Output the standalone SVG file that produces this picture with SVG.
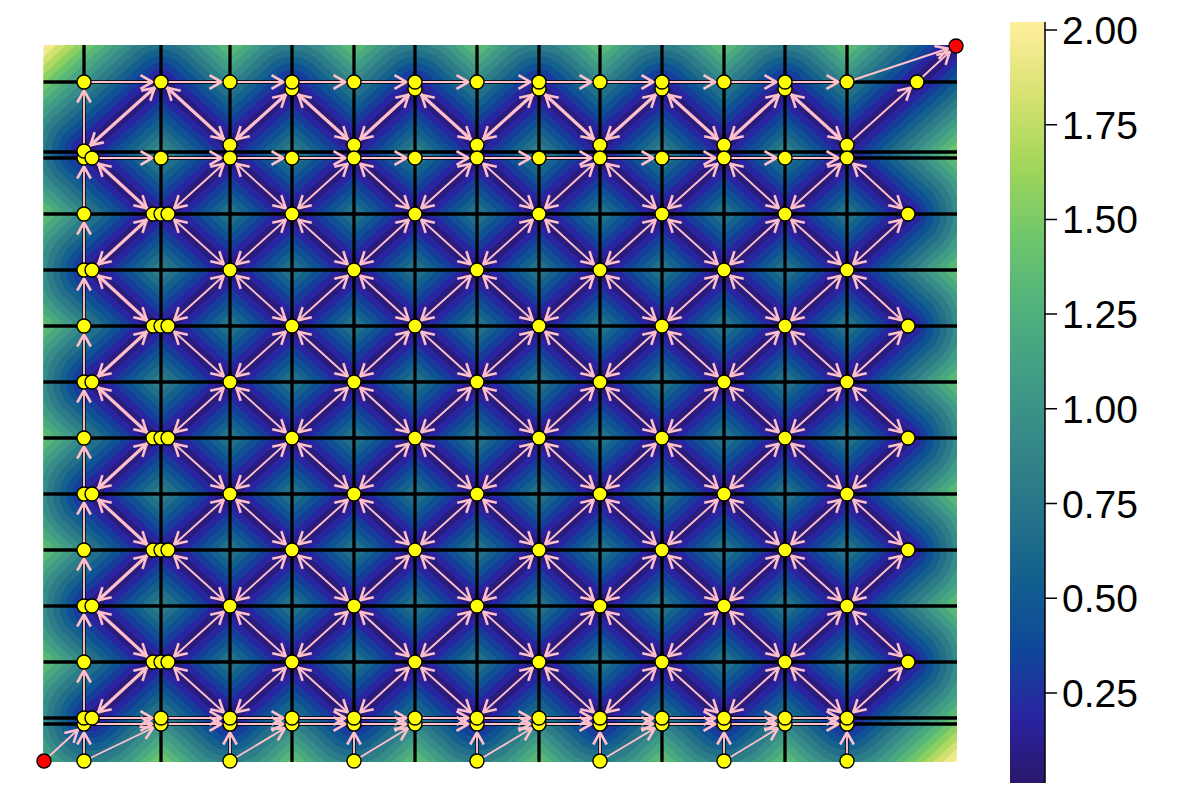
<svg xmlns="http://www.w3.org/2000/svg" xmlns:xlink="http://www.w3.org/1999/xlink" width="1200" height="800" viewBox="0 0 1200 800">
<style>
.y{fill:#ffff00;stroke:#000;stroke-width:1.4}
.r{fill:#ff0000;stroke:#000;stroke-width:1.4}
.g{stroke:#000;stroke-width:3.3;fill:none}
.e{stroke:#ffc0cb;stroke-width:1.9;fill:none;marker-start:url(#ah);marker-end:url(#ah)}
.d{stroke:#ffc0cb;stroke-width:1.9;fill:none;marker-end:url(#ah)}
.t{stroke-width:3.2}
.tk{stroke:#000;stroke-width:1.5}
.lb{font-family:"Liberation Sans",Arial,sans-serif;font-size:39px;fill:#000}
</style>
<defs>
<clipPath id="plotclip"><rect x="43.5" y="45" width="913.5" height="717"/></clipPath>
<marker id="ah" viewBox="-22 -9 24 18" refX="0" refY="0" markerWidth="24" markerHeight="18" markerUnits="userSpaceOnUse" orient="auto-start-reverse" overflow="visible"><path d="M-20.5 -6.8L-8.5 0L-20.5 6.8" fill="none" stroke="#ffc0cb" stroke-width="2.6"/></marker>
<linearGradient id="cb" x1="0" y1="1" x2="0" y2="0">
<stop offset="0" stop-color="rgb(41,24,107)"/>
<stop offset="0.0845" stop-color="rgb(42,35,160)"/>
<stop offset="0.175" stop-color="rgb(15,71,153)"/>
<stop offset="0.2655" stop-color="rgb(18,95,142)"/>
<stop offset="0.356" stop-color="rgb(38,116,137)"/>
<stop offset="0.4466" stop-color="rgb(53,136,136)"/>
<stop offset="0.537" stop-color="rgb(65,157,133)"/>
<stop offset="0.6275" stop-color="rgb(81,178,124)"/>
<stop offset="0.718" stop-color="rgb(111,198,107)"/>
<stop offset="0.8086" stop-color="rgb(160,214,91)"/>
<stop offset="0.899" stop-color="rgb(212,225,112)"/>
<stop offset="0.9896" stop-color="rgb(253,238,153)"/>
<stop offset="1" stop-color="rgb(253,238,153)"/>
</linearGradient>
<path id="fp" fill="none" stroke-linecap="round" stroke-linejoin="round" d="M84 151L161 82L230 145L292 89L354 145L415 89L477 145L539 89L600 145L662 89L724 145L785 89L847 145L917 82L956 46
M92 158L153 214M168 214L230 158L292 214L354 158L415 214L477 158L539 214L600 158L662 214L724 158L785 214L847 158L908 214
M92 270L153 214M168 214L230 270L292 214L354 270L415 214L477 270L539 214L600 270L662 214L724 270L785 214L847 270L908 214
M92 270L153 326M168 326L230 270L292 326L354 270L415 326L477 270L539 326L600 270L662 326L724 270L785 326L847 270L908 326
M92 382L153 326M168 326L230 382L292 326L354 382L415 326L477 382L539 326L600 382L662 326L724 382L785 326L847 382L908 326
M92 382L153 438M168 438L230 382L292 438L354 382L415 438L477 382L539 438L600 382L662 438L724 382L785 438L847 382L908 438
M92 494L153 438M168 438L230 494L292 438L354 494L415 438L477 494L539 438L600 494L662 438L724 494L785 438L847 494L908 438
M92 494L153 550M168 550L230 494L292 550L354 494L415 550L477 494L539 550L600 494L662 550L724 494L785 550L847 494L908 550
M92 606L153 550M168 550L230 606L292 550L354 606L415 550L477 606L539 550L600 606L662 550L724 606L785 550L847 606L908 550
M92 606L153 662M168 662L230 606L292 662L354 606L415 662L477 606L539 662L600 606L662 662L724 606L785 662L847 606L908 662
M92 718L153 662M168 662L230 718L292 662L354 718L415 662L477 718L539 662L600 718L662 662L724 718L785 662L847 718L908 662"/>
</defs>
<rect width="1200" height="800" fill="#fff"/>
<g id="heatmap" clip-path="url(#plotclip)">
<rect x="43.5" y="45" width="913.5" height="717" fill="rgb(253,238,153)"/>
<use xlink:href="#fp" href="#fp" stroke="rgb(239,234,139)" stroke-width="207.2"/>
<use xlink:href="#fp" href="#fp" stroke="rgb(210,225,111)" stroke-width="194.3"/>
<use xlink:href="#fp" href="#fp" stroke="rgb(175,217,97)" stroke-width="181.3"/>
<use xlink:href="#fp" href="#fp" stroke="rgb(140,208,98)" stroke-width="168.4"/>
<use xlink:href="#fp" href="#fp" stroke="rgb(108,196,109)" stroke-width="155.4"/>
<use xlink:href="#fp" href="#fp" stroke="rgb(88,182,120)" stroke-width="142.5"/>
<use xlink:href="#fp" href="#fp" stroke="rgb(74,168,128)" stroke-width="129.5"/>
<use xlink:href="#fp" href="#fp" stroke="rgb(63,154,134)" stroke-width="116.6"/>
<use xlink:href="#fp" href="#fp" stroke="rgb(55,139,136)" stroke-width="103.6"/>
<use xlink:href="#fp" href="#fp" stroke="rgb(45,125,137)" stroke-width="90.7"/>
<use xlink:href="#fp" href="#fp" stroke="rgb(34,111,138)" stroke-width="77.7"/>
<use xlink:href="#fp" href="#fp" stroke="rgb(20,97,142)" stroke-width="64.8"/>
<use xlink:href="#fp" href="#fp" stroke="rgb(16,81,149)" stroke-width="51.8"/>
<use xlink:href="#fp" href="#fp" stroke="rgb(23,61,155)" stroke-width="38.9"/>
<use xlink:href="#fp" href="#fp" stroke="rgb(41,36,160)" stroke-width="25.9"/>
<use xlink:href="#fp" href="#fp" stroke="rgb(41,28,125)" stroke-width="12.95"/>
</g>
<g id="gridlines" class="g">
<path d="M43.5 82H957M43.5 152H957M43.5 158H957M43.5 214H957M43.5 270H957M43.5 326H957M43.5 382H957M43.5 438H957M43.5 494H957M43.5 550H957M43.5 606H957M43.5 662H957M43.5 718H957M43.5 724H957"/>
<path d="M84 45V762M161 45V762M230 45V762M292 45V762M354 45V762M415 45V762M477 45V762M539 45V762M600 45V762M662 45V762M724 45V762M785 45V762M847 45V762"/>
</g>
<g id="connectors">
<line class="d" x1="84" y1="761" x2="84" y2="724"/>
<line class="d" x1="84" y1="718" x2="84" y2="662"/>
<line class="d" x1="84" y1="662" x2="84" y2="606"/>
<line class="d" x1="84" y1="606" x2="84" y2="550"/>
<line class="d" x1="84" y1="550" x2="84" y2="494"/>
<line class="d" x1="84" y1="494" x2="84" y2="438"/>
<line class="d" x1="84" y1="438" x2="84" y2="382"/>
<line class="d" x1="84" y1="382" x2="84" y2="326"/>
<line class="d" x1="84" y1="326" x2="84" y2="270"/>
<line class="d" x1="84" y1="270" x2="84" y2="214"/>
<line class="d" x1="84" y1="214" x2="84" y2="158"/>
<line class="d" x1="84" y1="151" x2="84" y2="82"/>
<line class="d" x1="84" y1="82" x2="161" y2="82"/>
<line class="d" x1="161" y1="82" x2="230" y2="82"/>
<line class="d" x1="230" y1="82" x2="292" y2="82"/>
<line class="d" x1="292" y1="82" x2="354" y2="82"/>
<line class="d" x1="354" y1="82" x2="415" y2="82"/>
<line class="d" x1="415" y1="82" x2="477" y2="82"/>
<line class="d" x1="477" y1="82" x2="539" y2="82"/>
<line class="d" x1="539" y1="82" x2="600" y2="82"/>
<line class="d" x1="600" y1="82" x2="662" y2="82"/>
<line class="d" x1="662" y1="82" x2="724" y2="82"/>
<line class="d" x1="724" y1="82" x2="785" y2="82"/>
<line class="d" x1="785" y1="82" x2="847" y2="82"/>
<line class="d" x1="847" y1="82" x2="956" y2="46"/>
<line class="d" x1="92" y1="158" x2="161" y2="158"/>
<line class="d" x1="161" y1="158" x2="230" y2="158"/>
<line class="d" x1="230" y1="158" x2="292" y2="158"/>
<line class="d" x1="292" y1="158" x2="354" y2="158"/>
<line class="d" x1="354" y1="158" x2="415" y2="158"/>
<line class="d" x1="415" y1="158" x2="477" y2="158"/>
<line class="d" x1="477" y1="158" x2="539" y2="158"/>
<line class="d" x1="539" y1="158" x2="600" y2="158"/>
<line class="d" x1="600" y1="158" x2="662" y2="158"/>
<line class="d" x1="662" y1="158" x2="724" y2="158"/>
<line class="d" x1="724" y1="158" x2="785" y2="158"/>
<line class="d" x1="785" y1="158" x2="847" y2="158"/>
<line class="e t" x1="84" y1="151" x2="161" y2="82"/>
<line class="e t" x1="161" y1="82" x2="230" y2="145"/>
<line class="e t" x1="230" y1="145" x2="292" y2="89"/>
<line class="e t" x1="292" y1="89" x2="354" y2="145"/>
<line class="e t" x1="354" y1="145" x2="415" y2="89"/>
<line class="e t" x1="415" y1="89" x2="477" y2="145"/>
<line class="e t" x1="477" y1="145" x2="539" y2="89"/>
<line class="e t" x1="539" y1="89" x2="600" y2="145"/>
<line class="e t" x1="600" y1="145" x2="662" y2="89"/>
<line class="e t" x1="662" y1="89" x2="724" y2="145"/>
<line class="e t" x1="724" y1="145" x2="785" y2="89"/>
<line class="e t" x1="785" y1="89" x2="847" y2="145"/>
<line class="d" x1="847" y1="145" x2="917" y2="82"/>
<line class="d" x1="917" y1="82" x2="956" y2="46"/>
<line class="e t" x1="92" y1="158" x2="153" y2="214"/>
<line class="e" x1="168" y1="214" x2="230" y2="158"/>
<line class="e" x1="230" y1="158" x2="292" y2="214"/>
<line class="e" x1="292" y1="214" x2="354" y2="158"/>
<line class="e" x1="354" y1="158" x2="415" y2="214"/>
<line class="e" x1="415" y1="214" x2="477" y2="158"/>
<line class="e" x1="477" y1="158" x2="539" y2="214"/>
<line class="e" x1="539" y1="214" x2="600" y2="158"/>
<line class="e" x1="600" y1="158" x2="662" y2="214"/>
<line class="e" x1="662" y1="214" x2="724" y2="158"/>
<line class="e" x1="724" y1="158" x2="785" y2="214"/>
<line class="e" x1="785" y1="214" x2="847" y2="158"/>
<line class="e" x1="847" y1="158" x2="908" y2="214"/>
<line class="e t" x1="92" y1="270" x2="153" y2="214"/>
<line class="e" x1="168" y1="214" x2="230" y2="270"/>
<line class="e" x1="230" y1="270" x2="292" y2="214"/>
<line class="e" x1="292" y1="214" x2="354" y2="270"/>
<line class="e" x1="354" y1="270" x2="415" y2="214"/>
<line class="e" x1="415" y1="214" x2="477" y2="270"/>
<line class="e" x1="477" y1="270" x2="539" y2="214"/>
<line class="e" x1="539" y1="214" x2="600" y2="270"/>
<line class="e" x1="600" y1="270" x2="662" y2="214"/>
<line class="e" x1="662" y1="214" x2="724" y2="270"/>
<line class="e" x1="724" y1="270" x2="785" y2="214"/>
<line class="e" x1="785" y1="214" x2="847" y2="270"/>
<line class="e" x1="847" y1="270" x2="908" y2="214"/>
<line class="e t" x1="92" y1="270" x2="153" y2="326"/>
<line class="e" x1="168" y1="326" x2="230" y2="270"/>
<line class="e" x1="230" y1="270" x2="292" y2="326"/>
<line class="e" x1="292" y1="326" x2="354" y2="270"/>
<line class="e" x1="354" y1="270" x2="415" y2="326"/>
<line class="e" x1="415" y1="326" x2="477" y2="270"/>
<line class="e" x1="477" y1="270" x2="539" y2="326"/>
<line class="e" x1="539" y1="326" x2="600" y2="270"/>
<line class="e" x1="600" y1="270" x2="662" y2="326"/>
<line class="e" x1="662" y1="326" x2="724" y2="270"/>
<line class="e" x1="724" y1="270" x2="785" y2="326"/>
<line class="e" x1="785" y1="326" x2="847" y2="270"/>
<line class="e" x1="847" y1="270" x2="908" y2="326"/>
<line class="e t" x1="92" y1="382" x2="153" y2="326"/>
<line class="e" x1="168" y1="326" x2="230" y2="382"/>
<line class="e" x1="230" y1="382" x2="292" y2="326"/>
<line class="e" x1="292" y1="326" x2="354" y2="382"/>
<line class="e" x1="354" y1="382" x2="415" y2="326"/>
<line class="e" x1="415" y1="326" x2="477" y2="382"/>
<line class="e" x1="477" y1="382" x2="539" y2="326"/>
<line class="e" x1="539" y1="326" x2="600" y2="382"/>
<line class="e" x1="600" y1="382" x2="662" y2="326"/>
<line class="e" x1="662" y1="326" x2="724" y2="382"/>
<line class="e" x1="724" y1="382" x2="785" y2="326"/>
<line class="e" x1="785" y1="326" x2="847" y2="382"/>
<line class="e" x1="847" y1="382" x2="908" y2="326"/>
<line class="e t" x1="92" y1="382" x2="153" y2="438"/>
<line class="e" x1="168" y1="438" x2="230" y2="382"/>
<line class="e" x1="230" y1="382" x2="292" y2="438"/>
<line class="e" x1="292" y1="438" x2="354" y2="382"/>
<line class="e" x1="354" y1="382" x2="415" y2="438"/>
<line class="e" x1="415" y1="438" x2="477" y2="382"/>
<line class="e" x1="477" y1="382" x2="539" y2="438"/>
<line class="e" x1="539" y1="438" x2="600" y2="382"/>
<line class="e" x1="600" y1="382" x2="662" y2="438"/>
<line class="e" x1="662" y1="438" x2="724" y2="382"/>
<line class="e" x1="724" y1="382" x2="785" y2="438"/>
<line class="e" x1="785" y1="438" x2="847" y2="382"/>
<line class="e" x1="847" y1="382" x2="908" y2="438"/>
<line class="e t" x1="92" y1="494" x2="153" y2="438"/>
<line class="e" x1="168" y1="438" x2="230" y2="494"/>
<line class="e" x1="230" y1="494" x2="292" y2="438"/>
<line class="e" x1="292" y1="438" x2="354" y2="494"/>
<line class="e" x1="354" y1="494" x2="415" y2="438"/>
<line class="e" x1="415" y1="438" x2="477" y2="494"/>
<line class="e" x1="477" y1="494" x2="539" y2="438"/>
<line class="e" x1="539" y1="438" x2="600" y2="494"/>
<line class="e" x1="600" y1="494" x2="662" y2="438"/>
<line class="e" x1="662" y1="438" x2="724" y2="494"/>
<line class="e" x1="724" y1="494" x2="785" y2="438"/>
<line class="e" x1="785" y1="438" x2="847" y2="494"/>
<line class="e" x1="847" y1="494" x2="908" y2="438"/>
<line class="e t" x1="92" y1="494" x2="153" y2="550"/>
<line class="e" x1="168" y1="550" x2="230" y2="494"/>
<line class="e" x1="230" y1="494" x2="292" y2="550"/>
<line class="e" x1="292" y1="550" x2="354" y2="494"/>
<line class="e" x1="354" y1="494" x2="415" y2="550"/>
<line class="e" x1="415" y1="550" x2="477" y2="494"/>
<line class="e" x1="477" y1="494" x2="539" y2="550"/>
<line class="e" x1="539" y1="550" x2="600" y2="494"/>
<line class="e" x1="600" y1="494" x2="662" y2="550"/>
<line class="e" x1="662" y1="550" x2="724" y2="494"/>
<line class="e" x1="724" y1="494" x2="785" y2="550"/>
<line class="e" x1="785" y1="550" x2="847" y2="494"/>
<line class="e" x1="847" y1="494" x2="908" y2="550"/>
<line class="e t" x1="92" y1="606" x2="153" y2="550"/>
<line class="e" x1="168" y1="550" x2="230" y2="606"/>
<line class="e" x1="230" y1="606" x2="292" y2="550"/>
<line class="e" x1="292" y1="550" x2="354" y2="606"/>
<line class="e" x1="354" y1="606" x2="415" y2="550"/>
<line class="e" x1="415" y1="550" x2="477" y2="606"/>
<line class="e" x1="477" y1="606" x2="539" y2="550"/>
<line class="e" x1="539" y1="550" x2="600" y2="606"/>
<line class="e" x1="600" y1="606" x2="662" y2="550"/>
<line class="e" x1="662" y1="550" x2="724" y2="606"/>
<line class="e" x1="724" y1="606" x2="785" y2="550"/>
<line class="e" x1="785" y1="550" x2="847" y2="606"/>
<line class="e" x1="847" y1="606" x2="908" y2="550"/>
<line class="e t" x1="92" y1="606" x2="153" y2="662"/>
<line class="e" x1="168" y1="662" x2="230" y2="606"/>
<line class="e" x1="230" y1="606" x2="292" y2="662"/>
<line class="e" x1="292" y1="662" x2="354" y2="606"/>
<line class="e" x1="354" y1="606" x2="415" y2="662"/>
<line class="e" x1="415" y1="662" x2="477" y2="606"/>
<line class="e" x1="477" y1="606" x2="539" y2="662"/>
<line class="e" x1="539" y1="662" x2="600" y2="606"/>
<line class="e" x1="600" y1="606" x2="662" y2="662"/>
<line class="e" x1="662" y1="662" x2="724" y2="606"/>
<line class="e" x1="724" y1="606" x2="785" y2="662"/>
<line class="e" x1="785" y1="662" x2="847" y2="606"/>
<line class="e" x1="847" y1="606" x2="908" y2="662"/>
<line class="e t" x1="92" y1="718" x2="153" y2="662"/>
<line class="e" x1="168" y1="662" x2="230" y2="718"/>
<line class="e" x1="230" y1="718" x2="292" y2="662"/>
<line class="e" x1="292" y1="662" x2="354" y2="718"/>
<line class="e" x1="354" y1="718" x2="415" y2="662"/>
<line class="e" x1="415" y1="662" x2="477" y2="718"/>
<line class="e" x1="477" y1="718" x2="539" y2="662"/>
<line class="e" x1="539" y1="662" x2="600" y2="718"/>
<line class="e" x1="600" y1="718" x2="662" y2="662"/>
<line class="e" x1="662" y1="662" x2="724" y2="718"/>
<line class="e" x1="724" y1="718" x2="785" y2="662"/>
<line class="e" x1="785" y1="662" x2="847" y2="718"/>
<line class="e" x1="847" y1="718" x2="908" y2="662"/>
<line class="d" x1="92" y1="718" x2="161" y2="718"/>
<line class="d" x1="161" y1="718" x2="230" y2="718"/>
<line class="d" x1="230" y1="718" x2="292" y2="718"/>
<line class="d" x1="292" y1="718" x2="354" y2="718"/>
<line class="d" x1="354" y1="718" x2="415" y2="718"/>
<line class="d" x1="415" y1="718" x2="477" y2="718"/>
<line class="d" x1="477" y1="718" x2="539" y2="718"/>
<line class="d" x1="539" y1="718" x2="600" y2="718"/>
<line class="d" x1="600" y1="718" x2="662" y2="718"/>
<line class="d" x1="662" y1="718" x2="724" y2="718"/>
<line class="d" x1="724" y1="718" x2="785" y2="718"/>
<line class="d" x1="785" y1="718" x2="847" y2="718"/>
<line class="d" x1="84" y1="724" x2="161" y2="724"/>
<line class="d" x1="161" y1="724" x2="230" y2="724"/>
<line class="d" x1="230" y1="724" x2="292" y2="724"/>
<line class="d" x1="292" y1="724" x2="354" y2="724"/>
<line class="d" x1="354" y1="724" x2="415" y2="724"/>
<line class="d" x1="415" y1="724" x2="477" y2="724"/>
<line class="d" x1="477" y1="724" x2="539" y2="724"/>
<line class="d" x1="539" y1="724" x2="600" y2="724"/>
<line class="d" x1="600" y1="724" x2="662" y2="724"/>
<line class="d" x1="662" y1="724" x2="724" y2="724"/>
<line class="d" x1="724" y1="724" x2="785" y2="724"/>
<line class="d" x1="785" y1="724" x2="847" y2="724"/>
<line class="d" x1="44" y1="761" x2="84" y2="724"/>
<line class="d" x1="84" y1="761" x2="161" y2="724"/>
<line class="d" x1="230" y1="761" x2="292" y2="724"/>
<line class="d" x1="354" y1="761" x2="415" y2="724"/>
<line class="d" x1="477" y1="761" x2="539" y2="724"/>
<line class="d" x1="600" y1="761" x2="662" y2="724"/>
<line class="d" x1="724" y1="761" x2="785" y2="724"/>
<line class="d" x1="230" y1="761" x2="230" y2="724"/>
<line class="d" x1="354" y1="761" x2="354" y2="724"/>
<line class="d" x1="477" y1="761" x2="477" y2="724"/>
<line class="d" x1="600" y1="761" x2="600" y2="724"/>
<line class="d" x1="724" y1="761" x2="724" y2="724"/>
<line class="d" x1="847" y1="761" x2="847" y2="724"/>
</g>
<g id="nodes">
<g id="n292-89"><circle class="y" r="7" cx="292" cy="89"/></g>
<g id="n415-89"><circle class="y" r="7" cx="415" cy="89"/></g>
<g id="n539-89"><circle class="y" r="7" cx="539" cy="89"/></g>
<g id="n662-89"><circle class="y" r="7" cx="662" cy="89"/></g>
<g id="n785-89"><circle class="y" r="7" cx="785" cy="89"/></g>
<g id="n84-82"><circle class="y" r="7" cx="84" cy="82"/></g>
<g id="n161-82"><circle class="y" r="7" cx="161" cy="82"/></g>
<g id="n230-82"><circle class="y" r="7" cx="230" cy="82"/></g>
<g id="n292-82"><circle class="y" r="7" cx="292" cy="82"/></g>
<g id="n354-82"><circle class="y" r="7" cx="354" cy="82"/></g>
<g id="n415-82"><circle class="y" r="7" cx="415" cy="82"/></g>
<g id="n477-82"><circle class="y" r="7" cx="477" cy="82"/></g>
<g id="n539-82"><circle class="y" r="7" cx="539" cy="82"/></g>
<g id="n600-82"><circle class="y" r="7" cx="600" cy="82"/></g>
<g id="n662-82"><circle class="y" r="7" cx="662" cy="82"/></g>
<g id="n724-82"><circle class="y" r="7" cx="724" cy="82"/></g>
<g id="n785-82"><circle class="y" r="7" cx="785" cy="82"/></g>
<g id="n847-82"><circle class="y" r="7" cx="847" cy="82"/></g>
<g id="n917-82"><circle class="y" r="7" cx="917" cy="82"/></g>
<g id="n230-145"><circle class="y" r="7" cx="230" cy="145"/></g>
<g id="n354-145"><circle class="y" r="7" cx="354" cy="145"/></g>
<g id="n477-145"><circle class="y" r="7" cx="477" cy="145"/></g>
<g id="n600-145"><circle class="y" r="7" cx="600" cy="145"/></g>
<g id="n724-145"><circle class="y" r="7" cx="724" cy="145"/></g>
<g id="n847-145"><circle class="y" r="7" cx="847" cy="145"/></g>
<g id="n84-158"><circle class="y" r="7" cx="84" cy="158"/></g>
<g id="n84-151"><circle class="y" r="7" cx="84" cy="151"/></g>
<g id="n92-158"><circle class="y" r="7" cx="92" cy="158"/></g>
<g id="n161-158"><circle class="y" r="7" cx="161" cy="158"/></g>
<g id="n230-158"><circle class="y" r="7" cx="230" cy="158"/></g>
<g id="n292-158"><circle class="y" r="7" cx="292" cy="158"/></g>
<g id="n354-158"><circle class="y" r="7" cx="354" cy="158"/></g>
<g id="n415-158"><circle class="y" r="7" cx="415" cy="158"/></g>
<g id="n477-158"><circle class="y" r="7" cx="477" cy="158"/></g>
<g id="n539-158"><circle class="y" r="7" cx="539" cy="158"/></g>
<g id="n600-158"><circle class="y" r="7" cx="600" cy="158"/></g>
<g id="n662-158"><circle class="y" r="7" cx="662" cy="158"/></g>
<g id="n724-158"><circle class="y" r="7" cx="724" cy="158"/></g>
<g id="n785-158"><circle class="y" r="7" cx="785" cy="158"/></g>
<g id="n847-158"><circle class="y" r="7" cx="847" cy="158"/></g>
<g id="n84-214"><circle class="y" r="7" cx="84" cy="214"/></g>
<g id="n153-214"><circle class="y" r="7" cx="153" cy="214"/></g>
<g id="n161-214"><circle class="y" r="7" cx="161" cy="214"/></g>
<g id="n168-214"><circle class="y" r="7" cx="168" cy="214"/></g>
<g id="n292-214"><circle class="y" r="7" cx="292" cy="214"/></g>
<g id="n415-214"><circle class="y" r="7" cx="415" cy="214"/></g>
<g id="n539-214"><circle class="y" r="7" cx="539" cy="214"/></g>
<g id="n662-214"><circle class="y" r="7" cx="662" cy="214"/></g>
<g id="n785-214"><circle class="y" r="7" cx="785" cy="214"/></g>
<g id="n908-214"><circle class="y" r="7" cx="908" cy="214"/></g>
<g id="n84-270"><circle class="y" r="7" cx="84" cy="270"/></g>
<g id="n92-270"><circle class="y" r="7" cx="92" cy="270"/></g>
<g id="n230-270"><circle class="y" r="7" cx="230" cy="270"/></g>
<g id="n354-270"><circle class="y" r="7" cx="354" cy="270"/></g>
<g id="n477-270"><circle class="y" r="7" cx="477" cy="270"/></g>
<g id="n600-270"><circle class="y" r="7" cx="600" cy="270"/></g>
<g id="n724-270"><circle class="y" r="7" cx="724" cy="270"/></g>
<g id="n847-270"><circle class="y" r="7" cx="847" cy="270"/></g>
<g id="n84-326"><circle class="y" r="7" cx="84" cy="326"/></g>
<g id="n153-326"><circle class="y" r="7" cx="153" cy="326"/></g>
<g id="n161-326"><circle class="y" r="7" cx="161" cy="326"/></g>
<g id="n168-326"><circle class="y" r="7" cx="168" cy="326"/></g>
<g id="n292-326"><circle class="y" r="7" cx="292" cy="326"/></g>
<g id="n415-326"><circle class="y" r="7" cx="415" cy="326"/></g>
<g id="n539-326"><circle class="y" r="7" cx="539" cy="326"/></g>
<g id="n662-326"><circle class="y" r="7" cx="662" cy="326"/></g>
<g id="n785-326"><circle class="y" r="7" cx="785" cy="326"/></g>
<g id="n908-326"><circle class="y" r="7" cx="908" cy="326"/></g>
<g id="n84-382"><circle class="y" r="7" cx="84" cy="382"/></g>
<g id="n92-382"><circle class="y" r="7" cx="92" cy="382"/></g>
<g id="n230-382"><circle class="y" r="7" cx="230" cy="382"/></g>
<g id="n354-382"><circle class="y" r="7" cx="354" cy="382"/></g>
<g id="n477-382"><circle class="y" r="7" cx="477" cy="382"/></g>
<g id="n600-382"><circle class="y" r="7" cx="600" cy="382"/></g>
<g id="n724-382"><circle class="y" r="7" cx="724" cy="382"/></g>
<g id="n847-382"><circle class="y" r="7" cx="847" cy="382"/></g>
<g id="n84-438"><circle class="y" r="7" cx="84" cy="438"/></g>
<g id="n153-438"><circle class="y" r="7" cx="153" cy="438"/></g>
<g id="n161-438"><circle class="y" r="7" cx="161" cy="438"/></g>
<g id="n168-438"><circle class="y" r="7" cx="168" cy="438"/></g>
<g id="n292-438"><circle class="y" r="7" cx="292" cy="438"/></g>
<g id="n415-438"><circle class="y" r="7" cx="415" cy="438"/></g>
<g id="n539-438"><circle class="y" r="7" cx="539" cy="438"/></g>
<g id="n662-438"><circle class="y" r="7" cx="662" cy="438"/></g>
<g id="n785-438"><circle class="y" r="7" cx="785" cy="438"/></g>
<g id="n908-438"><circle class="y" r="7" cx="908" cy="438"/></g>
<g id="n84-494"><circle class="y" r="7" cx="84" cy="494"/></g>
<g id="n92-494"><circle class="y" r="7" cx="92" cy="494"/></g>
<g id="n230-494"><circle class="y" r="7" cx="230" cy="494"/></g>
<g id="n354-494"><circle class="y" r="7" cx="354" cy="494"/></g>
<g id="n477-494"><circle class="y" r="7" cx="477" cy="494"/></g>
<g id="n600-494"><circle class="y" r="7" cx="600" cy="494"/></g>
<g id="n724-494"><circle class="y" r="7" cx="724" cy="494"/></g>
<g id="n847-494"><circle class="y" r="7" cx="847" cy="494"/></g>
<g id="n84-550"><circle class="y" r="7" cx="84" cy="550"/></g>
<g id="n153-550"><circle class="y" r="7" cx="153" cy="550"/></g>
<g id="n161-550"><circle class="y" r="7" cx="161" cy="550"/></g>
<g id="n168-550"><circle class="y" r="7" cx="168" cy="550"/></g>
<g id="n292-550"><circle class="y" r="7" cx="292" cy="550"/></g>
<g id="n415-550"><circle class="y" r="7" cx="415" cy="550"/></g>
<g id="n539-550"><circle class="y" r="7" cx="539" cy="550"/></g>
<g id="n662-550"><circle class="y" r="7" cx="662" cy="550"/></g>
<g id="n785-550"><circle class="y" r="7" cx="785" cy="550"/></g>
<g id="n908-550"><circle class="y" r="7" cx="908" cy="550"/></g>
<g id="n84-606"><circle class="y" r="7" cx="84" cy="606"/></g>
<g id="n92-606"><circle class="y" r="7" cx="92" cy="606"/></g>
<g id="n230-606"><circle class="y" r="7" cx="230" cy="606"/></g>
<g id="n354-606"><circle class="y" r="7" cx="354" cy="606"/></g>
<g id="n477-606"><circle class="y" r="7" cx="477" cy="606"/></g>
<g id="n600-606"><circle class="y" r="7" cx="600" cy="606"/></g>
<g id="n724-606"><circle class="y" r="7" cx="724" cy="606"/></g>
<g id="n847-606"><circle class="y" r="7" cx="847" cy="606"/></g>
<g id="n84-662"><circle class="y" r="7" cx="84" cy="662"/></g>
<g id="n153-662"><circle class="y" r="7" cx="153" cy="662"/></g>
<g id="n161-662"><circle class="y" r="7" cx="161" cy="662"/></g>
<g id="n168-662"><circle class="y" r="7" cx="168" cy="662"/></g>
<g id="n292-662"><circle class="y" r="7" cx="292" cy="662"/></g>
<g id="n415-662"><circle class="y" r="7" cx="415" cy="662"/></g>
<g id="n539-662"><circle class="y" r="7" cx="539" cy="662"/></g>
<g id="n662-662"><circle class="y" r="7" cx="662" cy="662"/></g>
<g id="n785-662"><circle class="y" r="7" cx="785" cy="662"/></g>
<g id="n908-662"><circle class="y" r="7" cx="908" cy="662"/></g>
<g id="n84-724"><circle class="y" r="7" cx="84" cy="724"/></g>
<g id="n161-724"><circle class="y" r="7" cx="161" cy="724"/></g>
<g id="n230-724"><circle class="y" r="7" cx="230" cy="724"/></g>
<g id="n292-724"><circle class="y" r="7" cx="292" cy="724"/></g>
<g id="n354-724"><circle class="y" r="7" cx="354" cy="724"/></g>
<g id="n415-724"><circle class="y" r="7" cx="415" cy="724"/></g>
<g id="n477-724"><circle class="y" r="7" cx="477" cy="724"/></g>
<g id="n539-724"><circle class="y" r="7" cx="539" cy="724"/></g>
<g id="n600-724"><circle class="y" r="7" cx="600" cy="724"/></g>
<g id="n662-724"><circle class="y" r="7" cx="662" cy="724"/></g>
<g id="n724-724"><circle class="y" r="7" cx="724" cy="724"/></g>
<g id="n785-724"><circle class="y" r="7" cx="785" cy="724"/></g>
<g id="n847-724"><circle class="y" r="7" cx="847" cy="724"/></g>
<g id="n84-718"><circle class="y" r="7" cx="84" cy="718"/></g>
<g id="n92-718"><circle class="y" r="7" cx="92" cy="718"/></g>
<g id="n161-718"><circle class="y" r="7" cx="161" cy="718"/></g>
<g id="n230-718"><circle class="y" r="7" cx="230" cy="718"/></g>
<g id="n292-718"><circle class="y" r="7" cx="292" cy="718"/></g>
<g id="n354-718"><circle class="y" r="7" cx="354" cy="718"/></g>
<g id="n415-718"><circle class="y" r="7" cx="415" cy="718"/></g>
<g id="n477-718"><circle class="y" r="7" cx="477" cy="718"/></g>
<g id="n539-718"><circle class="y" r="7" cx="539" cy="718"/></g>
<g id="n600-718"><circle class="y" r="7" cx="600" cy="718"/></g>
<g id="n662-718"><circle class="y" r="7" cx="662" cy="718"/></g>
<g id="n724-718"><circle class="y" r="7" cx="724" cy="718"/></g>
<g id="n785-718"><circle class="y" r="7" cx="785" cy="718"/></g>
<g id="n847-718"><circle class="y" r="7" cx="847" cy="718"/></g>
<g id="n84-761"><circle class="y" r="7" cx="84" cy="761"/></g>
<g id="n230-761"><circle class="y" r="7" cx="230" cy="761"/></g>
<g id="n354-761"><circle class="y" r="7" cx="354" cy="761"/></g>
<g id="n477-761"><circle class="y" r="7" cx="477" cy="761"/></g>
<g id="n600-761"><circle class="y" r="7" cx="600" cy="761"/></g>
<g id="n724-761"><circle class="y" r="7" cx="724" cy="761"/></g>
<g id="n847-761"><circle class="y" r="7" cx="847" cy="761"/></g>
<g id="start"><circle class="r" r="7" cx="44" cy="761"/></g>
<g id="goal"><circle class="r" r="7" cx="956" cy="46"/></g>
</g>
<g id="colorbar">
<rect x="1010" y="22" width="35" height="761" fill="url(#cb)"/>
<line class="tk" x1="1045" y1="22" x2="1045" y2="783"/>
<path class="tk" d="M1045 30H1057M1045 124.7H1057M1045 219.4H1057M1045 314.1H1057M1045 408.8H1057M1045 503.5H1057M1045 598.2H1057M1045 692.9H1057"/>
<text class="lb" x="1062" y="44">2.00</text>
<text class="lb" x="1062" y="138.7">1.75</text>
<text class="lb" x="1062" y="233.4">1.50</text>
<text class="lb" x="1062" y="328.1">1.25</text>
<text class="lb" x="1062" y="422.8">1.00</text>
<text class="lb" x="1062" y="517.5">0.75</text>
<text class="lb" x="1062" y="612.2">0.50</text>
<text class="lb" x="1062" y="706.9">0.25</text>
</g>
</svg>
